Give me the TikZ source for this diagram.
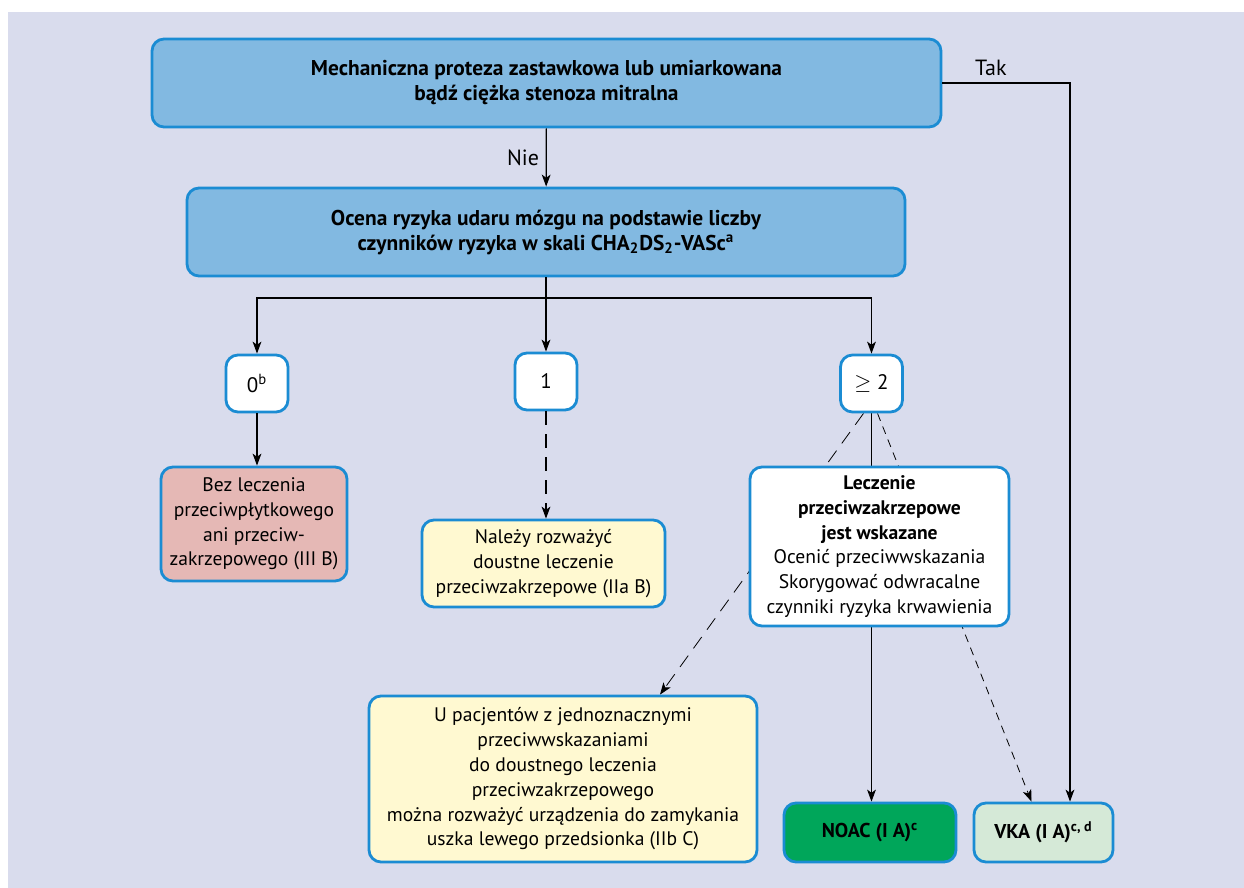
\documentclass[tikz,border=0pt]{standalone}
\usepackage{fontspec}
\setmainfont{PT Sans}
\usetikzlibrary{arrows.meta}
\usetikzlibrary{backgrounds}
\definecolor{panel}{HTML}{D9DCED}
\definecolor{boxline}{HTML}{1B8CD3}
\definecolor{headfill}{HTML}{82B9E1}
\definecolor{nofill}{HTML}{E5B8B5}
\definecolor{maybefill}{HTML}{FFF9D1}
\definecolor{noacfill}{HTML}{00A65A}
\definecolor{vkafill}{HTML}{D5E9D7}

\begin{document}
\begin{tikzpicture}[x=0.5pt, y=-0.5pt, ->, >={Stealth[length=6pt,width=4.4pt,inset=1.6pt]}, semithick]
    \tikzstyle{every node}=[font=\fontsize{9.8}{12.4}\selectfont]
    \tikzstyle{box}=[draw=boxline, line width=1.4pt, rounded corners=6pt, align=center, inner sep=1pt, text=black]
    \tikzstyle{head}=[box, fill=headfill, minimum height=44pt, font=\fontsize{10.7}{12.5}\selectfont\bfseries]
    \tikzstyle{count}=[box, fill=white, minimum width=31pt, minimum height=28.5pt, font=\fontsize{10.5}{12}\selectfont]
    \tikzstyle{final}=[box, minimum height=29.5pt, font=\fontsize{10}{12}\selectfont\bfseries]
    \tikzstyle{long dash}=[dash pattern=on 7pt off 4.5pt]
    \tikzstyle{short dash}=[dash pattern=on 4pt off 3pt]
    \tikzstyle{answer}=[font=\fontsize{11}{13}\selectfont]
    \useasboundingbox (0,0) rectangle (1244,888);
    \node[head, minimum width=394.5pt]  (valve) at (546.5,83)
        {Mechaniczna proteza zastawkowa lub umiarkowana\\bądź ciężka stenoza mitralna};
    \node[head, minimum width=359pt]    (score) at (546,232)
        {Ocena ryzyka udaru mózgu na podstawie liczby\\czynników ryzyka w skali CHA\textsubscript{2}DS\textsubscript{2}-VASc\textsuperscript{a}};
    \node[count]    (zero)  at (257,383.5)  {0\textsuperscript{b}};
    \node[count]    (one)   at (546,381.5)  {1};
    \node[count]    (two)   at (871.5,383.5) {$\geq$ 2};
    \node[box, fill=nofill, minimum width=93pt, minimum height=57pt]        (none)  at (254,524)
        {Bez leczenia\\przeciwpłytkowego\\ani przeciw-\\zakrzepowego (III B)};
    \node[box, fill=maybefill, minimum width=121.5pt, minimum height=43.5pt] (oac)  at (543.5,563.5)
        {Należy rozważyć\\doustne leczenie\\przeciwzakrzepowe (IIa B)};
    \node[box, fill=white, minimum width=129.5pt, minimum height=79.5pt]   (indic)  at (879.5,546.5)
        {\textbf{Leczenie}\\\textbf{przeciwzakrzepowe}\\\textbf{jest wskazane}\\Ocenić przeciwwskazania\\Skorygować odwracalne\\czynniki ryzyka krwawienia};
    \node[box, fill=maybefill, minimum width=194pt, minimum height=83pt]   (laa)    at (563,779)
        {U pacjentów z jednoznacznymi\\przeciwwskazaniami\\do doustnego leczenia\\przeciwzakrzepowego\\można rozważyć urządzenia do zamykania\\uszka lewego przedsionka (IIb C)};
    \node[final, fill=noacfill, minimum width=86pt]  (noac) at (870,832.5)   {NOAC (I A)\textsuperscript{c}};
    \node[final, fill=vkafill, minimum width=69.5pt] (vka)  at (1043.5,832.5) {VKA (I A)\textsuperscript{c, d}};
    \coordinate (split) at (546,298);
    \coordinate (tak)   at (1070,83);
    \path
    (valve)
      edge  node[answer,left]{Nie}  (score)
    (zero)
      edge  (zero |- none.north)
    (one)
      edge[long dash]   (one |- oac.north);
    \draw[-] (score) -- (split);
    \draw (split) -| (zero);
    \draw (split) -- (one);
    \draw (split) -| (two);
    \draw (valve) -- node[answer,above,pos=0.38]{Tak} (tak) -- (tak |- vka.north);
    \begin{scope}[on background layer]
      \fill[panel,-] (8,12) rectangle (1244,888);
      \draw (two.south) -- (two.south |- noac.north);
      \draw[long dash]  ([xshift=-4pt]two.south) -- ([xshift=48.5pt]laa.north);
      \draw[short dash] ([xshift=3pt]two.south)  -- ([xshift=-6pt]vka.north);
    \end{scope}
\end{tikzpicture}
\end{document}
